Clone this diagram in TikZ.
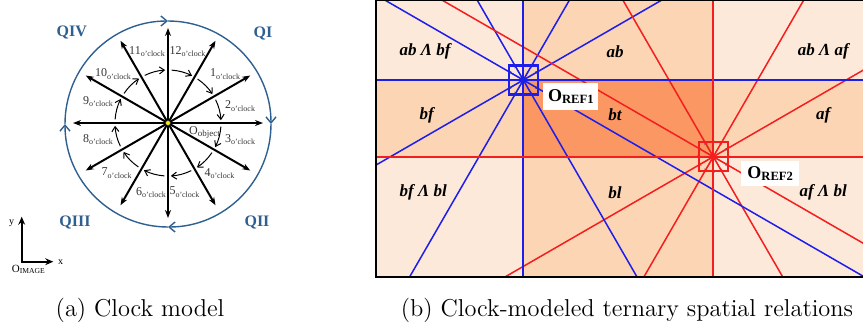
\documentclass[tikz,border=0pt]{standalone}
\usepackage{fontspec}
\newfontfamily\tnr{Liberation Serif}
\usetikzlibrary{arrows.meta,calc}
\definecolor{qblue}{RGB}{46,95,145}
\definecolor{lightp}{RGB}{253,233,218}
\definecolor{medp}{RGB}{251,213,180}
\definecolor{darkp}{RGB}{250,151,98}
\definecolor{refblue}{RGB}{30,30,235}
\definecolor{refred}{RGB}{245,30,30}
\newcommand{\clk}[1]{#1{\fontsize{4}{4}\selectfont\raisebox{-1.2pt}{o’clock}}}
\newcommand{\refsub}[1]{{\fontsize{6.3}{6}\selectfont\raisebox{-1.3pt}{#1}}}
\tikzset{
  clockhand/.style={{Stealth[length=4pt,width=3pt]}-{Stealth[length=4pt,width=3pt]}, line width=1pt},
  minihand/.style={{Stealth[length=1.8pt,width=1.6pt]}-{Stealth[length=1.8pt,width=1.6pt]}, line width=0.4pt, black!75},
  turnarrow/.style={-{Straight Barb[length=2.5pt,width=3.5pt]}, line width=0.5pt},
  ringarrow/.style={qblue, line width=0.7pt, -{Straight Barb[length=3pt,width=5pt]}},
  quadlabel/.style={qblue, font=\tnr\bfseries\fontsize{8}{8}\selectfont},
  clocklabel/.style={black!80, font=\tnr\fontsize{6}{6}\selectfont, inner sep=0pt},
  regionlabel/.style={font=\tnr\bfseries\itshape\fontsize{8.5}{9}\selectfont},
  reflabel/.style={fill=white, inner sep=0pt, font=\tnr\bfseries\fontsize{9}{9}\selectfont},
  refbox/.style={draw=#1, line width=1.1pt, minimum size=14.5pt, inner sep=0pt},
  refline/.style={draw=#1, line width=0.75pt},
  axisline/.style={draw=#1, line width=1.1pt},
  capt/.style={font=\fontsize{12.2}{14}\selectfont}
}
\begin{document}
\begin{tikzpicture}[x=0.5pt,y=0.5pt]
\useasboundingbox (0,0) rectangle (863,329);
% (a) clock model
\coordinate (ck) at (168,206);
\coordinate (rc) at (168,205);
\foreach \a in {0,30,...,330} \coordinate (h\a) at ($(ck)+(\a:95)$);
\foreach \a/\b in {0/180,30/210,60/240,90/270,120/300,150/330}
  \draw[clockhand] (h\a) -- (h\b);
\foreach \a in {90,60,...,-240}
  \draw[turnarrow] ($(ck)+(\a+26:53)$) arc[start angle=\a+26, end angle=\a+3, radius=53];
\foreach \a in {180,90,0,-90}
  \draw[ringarrow] ($(rc)+(\a:103)$) arc[start angle=\a, end angle=\a-90, radius=103];
\filldraw[fill=yellow, draw=black!60, line width=0.2pt] (ck) circle (2.3);
\node[clocklabel] (n11) at (147,277.3) {\clk{11}};
\node[clocklabel] (n12) at (187.5,277.3) {\clk{12}};
\node[clocklabel] (n1) at (225,255) {\clk{1}};
\node[clocklabel] (n10) at (113,255) {\clk{10}};
\node[clocklabel] (n9) at (98,227.3) {\clk{9}};
\node[clocklabel] (n2) at (240,223) {\clk{2}};
\node[clocklabel] (n3) at (240,189.7) {\clk{3}};
\node[clocklabel] (n8) at (98,189.7) {\clk{8}};
\node[clocklabel] (obj) at (204.5,196.3) {O{\fontsize{4.5}{4}\selectfont\raisebox{-1pt}{object}}};
\node[clocklabel] (n7) at (116.7,155.7) {\clk{7}};
\node[clocklabel] (n4) at (219.5,155.7) {\clk{4}};
\node[clocklabel] (n6) at (151,136.7) {\clk{6}};
\node[clocklabel] (n5) at (184.5,136.7) {\clk{5}};
\node[quadlabel] (q4) at (71.7,296.3) {QIV};
\node[quadlabel] (q1) at (263,296) {QI};
\node[quadlabel] (q3) at (75,107) {QIII};
\node[quadlabel] (q2) at (257,107) {QII};
% image axes
\coordinate (oi) at (21.7,67.3);
\coordinate (ay) at (21.7,112.3);
\coordinate (ax) at (53.3,67.3);
\draw[line width=1pt, {Stealth[length=4pt,width=3.4pt]}-{Stealth[length=4pt,width=3.4pt]}] (ay) -- (oi) -- (ax);
\node[font=\tnr\fontsize{5}{5}\selectfont] (ly) at (11.7,106) {y};
\node[font=\tnr\fontsize{5}{5}\selectfont] (lx) at (60.7,67.3) {x};
\node[font=\tnr\fontsize{5.5}{5}\selectfont, inner sep=0pt] (lo) at (28.3,59.7) {O{\fontsize{3.8}{4}\selectfont\raisebox{-0.8pt}{IMAGE}}};
% (b) ternary relations
\coordinate (r1) at (523.3,249);
\coordinate (r2) at (713.3,172.3);
\fill[lightp] (376,52.3) rectangle (866,329);
\fill[medp] (523.3,52.3) rectangle (713.3,329);
\fill[medp] (376,172.3) rectangle (866,249);
\fill[darkp] (523.3,172.3) rectangle (713.3,249);
\foreach \a in {0,30,...,150} {
  \draw[minihand] ($(r1)+(\a:18)$) -- ($(r1)+(\a+180:18)$);
  \draw[minihand] ($(r2)+(\a:18)$) -- ($(r2)+(\a+180:18)$);
}
\begin{scope}
\clip (376,52.3) rectangle (866,329);
\foreach \a in {30,60,120,150} {
  \draw[refline=refblue] ($(r1)+(\a:700)$) -- ($(r1)+(\a+180:700)$);
  \draw[refline=refred] ($(r2)+(\a:700)$) -- ($(r2)+(\a+180:700)$);
}
\end{scope}
\draw[axisline=refblue] (523.3,52.3) -- (523.3,329);
\draw[axisline=refblue] (376,249) -- (866,249);
\draw[axisline=refred] (713.3,52.3) -- (713.3,329);
\draw[axisline=refred] (376,172.3) -- (866,172.3);
\node[refbox=refblue] (sq1) at (r1) {};
\node[refbox=refred] (sq2) at (r2) {};
\node[reflabel, minimum width=27.5pt, minimum height=13.5pt] (lab1) at (570.8,232.3) {O\refsub{REF1}};
\node[reflabel, minimum width=29pt, minimum height=12.5pt] (lab2) at (770.2,155.5) {O\refsub{REF2}};
\node[regionlabel] (abbf) at (425,277.3) {ab Λ bf};
\node[regionlabel] (ab) at (615,277.3) {ab};
\node[regionlabel] (abaf) at (823.3,277.3) {ab Λ af};
\node[regionlabel] (bf) at (426.7,214) {bf};
\node[regionlabel] (bt) at (615,214) {bt};
\node[regionlabel] (af) at (823.3,214) {af};
\node[regionlabel] (bfbl) at (423.3,136.3) {bf Λ bl};
\node[regionlabel] (bl) at (615,136.3) {bl};
\node[regionlabel] (afbl) at (823.3,136.3) {af Λ bl};
\draw[line width=1.1pt] (376,52.3) rectangle (866,329.5);
% captions
\node[capt] (capa) at (140,19) {(a) Clock model};
\node[capt] (capb) at (627,19) {(b) Clock-modeled ternary spatial relations};
\end{tikzpicture}
\end{document}
